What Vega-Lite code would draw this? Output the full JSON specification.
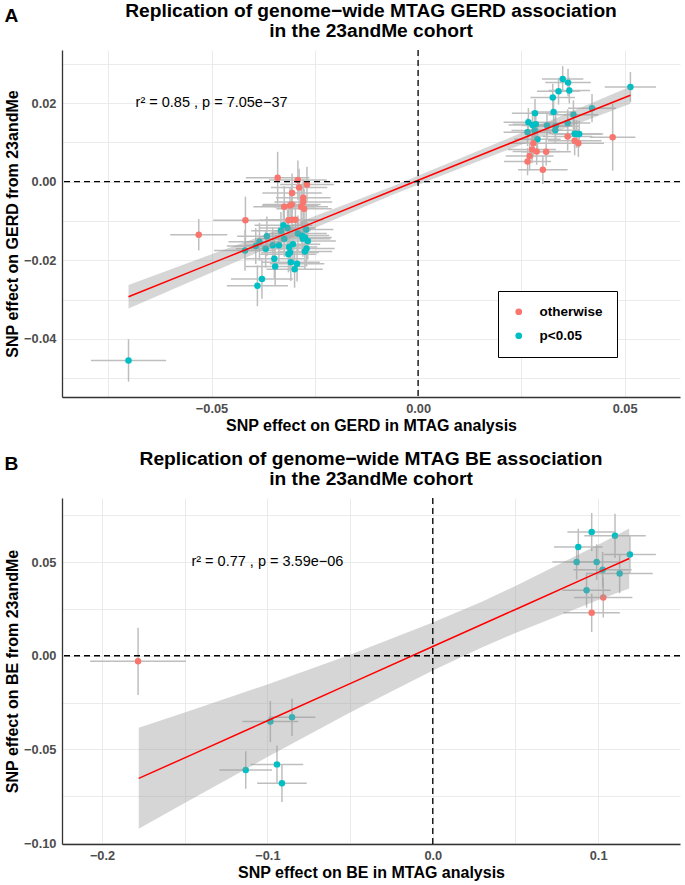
{
"$schema":"https://vega.github.io/schema/vega-lite/v6.json",
"padding":{"top":2,"left":4,"right":3,"bottom":0},
"spacing":16,
"config":{
 "font":"Liberation Sans",
 "view":{"stroke":null},
 "axis":{"domainColor":"#333333","domainWidth":1.3,"ticks":false,"grid":true,"gridColor":"#EBEBEB","gridWidth":1,"labelColor":"#4D4D4D","labelFontWeight":"bold","labelFontSize":12.8,"labelFlush":false,"titleFontWeight":"bold","titleFontSize":16,"titleColor":"#000000"},
 "axisX":{"labelPadding":5,"titlePadding":3},
 "axisY":{"labelPadding":6,"titlePadding":3},
 "title":{"fontSize":19.2,"fontWeight":"bold","anchor":"middle","frame":"group","lineHeight":20,"offset":8,"color":"#000000"},
 "legend":{"strokeColor":"#000000","fillColor":"#ffffff","padding":14,"symbolType":"circle","symbolSize":45,"symbolStrokeWidth":0,"labelFontSize":13.5,"labelFontWeight":"bold","labelColor":"#000000","rowPadding":9,"labelOffset":14}
},
"datasets":{
 "gerd":[
  {"x":-0.0340,"y":0.0010,"xe":0.0077,"ye":0.0066,"sig":"otherwise"},
  {"x":-0.0291,"y":0.0004,"xe":0.0070,"ye":0.0050,"sig":"otherwise"},
  {"x":-0.0269,"y":-0.0007,"xe":0.0065,"ye":0.0045,"sig":"otherwise"},
  {"x":-0.0288,"y":-0.0015,"xe":0.0068,"ye":0.0048,"sig":"otherwise"},
  {"x":-0.0305,"y":-0.0029,"xe":0.0072,"ye":0.0050,"sig":"otherwise"},
  {"x":-0.0278,"y":-0.0041,"xe":0.0066,"ye":0.0047,"sig":"otherwise"},
  {"x":-0.0278,"y":-0.0052,"xe":0.0070,"ye":0.0050,"sig":"otherwise"},
  {"x":-0.0324,"y":-0.0064,"xe":0.0075,"ye":0.0052,"sig":"otherwise"},
  {"x":-0.0310,"y":-0.0061,"xe":0.0068,"ye":0.0045,"sig":"otherwise"},
  {"x":-0.0306,"y":-0.0058,"xe":0.0070,"ye":0.0048,"sig":"otherwise"},
  {"x":-0.0283,"y":-0.0064,"xe":0.0065,"ye":0.0046,"sig":"otherwise"},
  {"x":-0.0276,"y":-0.0069,"xe":0.0067,"ye":0.0050,"sig":"otherwise"},
  {"x":-0.0418,"y":-0.0098,"xe":0.0078,"ye":0.0060,"sig":"otherwise"},
  {"x":-0.0314,"y":-0.0098,"xe":0.0070,"ye":0.0048,"sig":"otherwise"},
  {"x":-0.0305,"y":-0.0097,"xe":0.0066,"ye":0.0046,"sig":"otherwise"},
  {"x":-0.0297,"y":-0.0097,"xe":0.0068,"ye":0.0045,"sig":"otherwise"},
  {"x":-0.0531,"y":-0.0135,"xe":0.0069,"ye":0.0040,"sig":"otherwise"},
  {"x":-0.0326,"y":-0.0111,"xe":0.0070,"ye":0.0045,"sig":"p<0.05"},
  {"x":-0.0316,"y":-0.0118,"xe":0.0068,"ye":0.0046,"sig":"p<0.05"},
  {"x":-0.0332,"y":-0.0125,"xe":0.0072,"ye":0.0048,"sig":"p<0.05"},
  {"x":-0.0271,"y":-0.0122,"xe":0.0066,"ye":0.0047,"sig":"p<0.05"},
  {"x":-0.0291,"y":-0.0132,"xe":0.0070,"ye":0.0046,"sig":"p<0.05"},
  {"x":-0.0274,"y":-0.0142,"xe":0.0065,"ye":0.0045,"sig":"p<0.05"},
  {"x":-0.0267,"y":-0.0151,"xe":0.0068,"ye":0.0047,"sig":"p<0.05"},
  {"x":-0.0279,"y":-0.0145,"xe":0.0067,"ye":0.0046,"sig":"p<0.05"},
  {"x":-0.0366,"y":-0.0139,"xe":0.0072,"ye":0.0050,"sig":"p<0.05"},
  {"x":-0.0384,"y":-0.0153,"xe":0.0075,"ye":0.0048,"sig":"p<0.05"},
  {"x":-0.0393,"y":-0.0164,"xe":0.0070,"ye":0.0046,"sig":"p<0.05"},
  {"x":-0.0419,"y":-0.0175,"xe":0.0075,"ye":0.0052,"sig":"p<0.05"},
  {"x":-0.0352,"y":-0.0162,"xe":0.0068,"ye":0.0045,"sig":"p<0.05"},
  {"x":-0.0337,"y":-0.0162,"xe":0.0070,"ye":0.0047,"sig":"p<0.05"},
  {"x":-0.0369,"y":-0.0171,"xe":0.0072,"ye":0.0048,"sig":"p<0.05"},
  {"x":-0.0324,"y":-0.0145,"xe":0.0066,"ye":0.0046,"sig":"p<0.05"},
  {"x":-0.0312,"y":-0.0166,"xe":0.0068,"ye":0.0047,"sig":"p<0.05"},
  {"x":-0.0310,"y":-0.0180,"xe":0.0070,"ye":0.0048,"sig":"p<0.05"},
  {"x":-0.0303,"y":-0.0159,"xe":0.0066,"ye":0.0045,"sig":"p<0.05"},
  {"x":-0.0270,"y":-0.0170,"xe":0.0068,"ye":0.0046,"sig":"p<0.05"},
  {"x":-0.0274,"y":-0.0178,"xe":0.0066,"ye":0.0047,"sig":"p<0.05"},
  {"x":-0.0348,"y":-0.0196,"xe":0.0072,"ye":0.0050,"sig":"p<0.05"},
  {"x":-0.0314,"y":-0.0185,"xe":0.0068,"ye":0.0046,"sig":"p<0.05"},
  {"x":-0.0308,"y":-0.0205,"xe":0.0070,"ye":0.0048,"sig":"p<0.05"},
  {"x":-0.0293,"y":-0.0209,"xe":0.0066,"ye":0.0045,"sig":"p<0.05"},
  {"x":-0.0346,"y":-0.0216,"xe":0.0072,"ye":0.0049,"sig":"p<0.05"},
  {"x":-0.0299,"y":-0.0223,"xe":0.0068,"ye":0.0047,"sig":"p<0.05"},
  {"x":-0.0378,"y":-0.0248,"xe":0.0075,"ye":0.0050,"sig":"p<0.05"},
  {"x":-0.0389,"y":-0.0265,"xe":0.0074,"ye":0.0052,"sig":"p<0.05"},
  {"x":-0.0701,"y":-0.0455,"xe":0.0091,"ye":0.0054,"sig":"p<0.05"},
  {"x":-0.0281,"y":-0.0137,"xe":0.0066,"ye":0.0046,"sig":"p<0.05"},
  {"x":0.0350,"y":0.0261,"xe":0.0050,"ye":0.0033,"sig":"p<0.05"},
  {"x":0.0363,"y":0.0252,"xe":0.0055,"ye":0.0035,"sig":"p<0.05"},
  {"x":0.0340,"y":0.0230,"xe":0.0052,"ye":0.0034,"sig":"p<0.05"},
  {"x":0.0366,"y":0.0232,"xe":0.0050,"ye":0.0033,"sig":"p<0.05"},
  {"x":0.0326,"y":0.0214,"xe":0.0054,"ye":0.0035,"sig":"p<0.05"},
  {"x":0.0514,"y":0.0241,"xe":0.0062,"ye":0.0038,"sig":"p<0.05"},
  {"x":0.0421,"y":0.0187,"xe":0.0058,"ye":0.0036,"sig":"p<0.05"},
  {"x":0.0283,"y":0.0174,"xe":0.0056,"ye":0.0036,"sig":"p<0.05"},
  {"x":0.0328,"y":0.0177,"xe":0.0055,"ye":0.0035,"sig":"p<0.05"},
  {"x":0.0376,"y":0.0170,"xe":0.0060,"ye":0.0037,"sig":"p<0.05"},
  {"x":0.0267,"y":0.0151,"xe":0.0060,"ye":0.0036,"sig":"p<0.05"},
  {"x":0.0277,"y":0.0144,"xe":0.0058,"ye":0.0035,"sig":"p<0.05"},
  {"x":0.0285,"y":0.0146,"xe":0.0056,"ye":0.0034,"sig":"p<0.05"},
  {"x":0.0312,"y":0.0143,"xe":0.0060,"ye":0.0035,"sig":"p<0.05"},
  {"x":0.0333,"y":0.0141,"xe":0.0058,"ye":0.0036,"sig":"p<0.05"},
  {"x":0.0362,"y":0.0149,"xe":0.0055,"ye":0.0035,"sig":"p<0.05"},
  {"x":0.0265,"y":0.0126,"xe":0.0058,"ye":0.0036,"sig":"p<0.05"},
  {"x":0.0282,"y":0.0130,"xe":0.0056,"ye":0.0035,"sig":"p<0.05"},
  {"x":0.0332,"y":0.0131,"xe":0.0058,"ye":0.0034,"sig":"p<0.05"},
  {"x":0.0379,"y":0.0122,"xe":0.0062,"ye":0.0036,"sig":"p<0.05"},
  {"x":0.0384,"y":0.0121,"xe":0.0060,"ye":0.0035,"sig":"p<0.05"},
  {"x":0.0390,"y":0.0121,"xe":0.0058,"ye":0.0034,"sig":"p<0.05"},
  {"x":0.0289,"y":0.0108,"xe":0.0056,"ye":0.0035,"sig":"p<0.05"},
  {"x":0.0362,"y":0.0115,"xe":0.0060,"ye":0.0036,"sig":"otherwise"},
  {"x":0.0471,"y":0.0113,"xe":0.0055,"ye":0.0085,"sig":"otherwise"},
  {"x":0.0379,"y":0.0104,"xe":0.0065,"ye":0.0037,"sig":"otherwise"},
  {"x":0.0388,"y":0.0098,"xe":0.0062,"ye":0.0035,"sig":"otherwise"},
  {"x":0.0279,"y":0.0098,"xe":0.0060,"ye":0.0036,"sig":"otherwise"},
  {"x":0.0276,"y":0.0082,"xe":0.0058,"ye":0.0035,"sig":"otherwise"},
  {"x":0.0287,"y":0.0077,"xe":0.0058,"ye":0.0034,"sig":"otherwise"},
  {"x":0.0310,"y":0.0076,"xe":0.0060,"ye":0.0035,"sig":"otherwise"},
  {"x":0.0270,"y":0.0065,"xe":0.0058,"ye":0.0036,"sig":"otherwise"},
  {"x":0.0265,"y":0.0051,"xe":0.0057,"ye":0.0035,"sig":"otherwise"},
  {"x":0.0302,"y":0.0030,"xe":0.0060,"ye":0.0036,"sig":"otherwise"}
 ],
 "gerd_fit":[
  {"x":-0.0701,"fit":-0.0293,"lo":-0.0323,"hi":-0.0263},
  {"x":-0.05,"fit":-0.0208,"lo":-0.0231,"hi":-0.0185},
  {"x":-0.03,"fit":-0.0124,"lo":-0.0140,"hi":-0.0108},
  {"x":-0.006,"fit":-0.0022,"lo":-0.0033,"hi":-0.0011},
  {"x":0.02,"fit":0.0088,"lo":0.0074,"hi":0.0102},
  {"x":0.04,"fit":0.0172,"lo":0.0153,"hi":0.0191},
  {"x":0.0514,"fit":0.0220,"lo":0.0198,"hi":0.0242}
 ],
 "gerd_note":[{"x":-0.05,"y":0.02,"label":"r² = 0.85 ,  p = 7.05e−37"}],
 "be":[
  {"x":-0.0982,"y":-0.0351,"xe":0.0169,"ye":0.0110,"sig":"p<0.05"},
  {"x":-0.0851,"y":-0.0329,"xe":0.0141,"ye":0.0100,"sig":"p<0.05"},
  {"x":-0.0942,"y":-0.0580,"xe":0.0159,"ye":0.0101,"sig":"p<0.05"},
  {"x":-0.1131,"y":-0.0610,"xe":0.0159,"ye":0.0100,"sig":"p<0.05"},
  {"x":-0.0912,"y":-0.0681,"xe":0.0150,"ye":0.0100,"sig":"p<0.05"},
  {"x":0.0961,"y":0.0660,"xe":0.0147,"ye":0.0102,"sig":"p<0.05"},
  {"x":0.1102,"y":0.0640,"xe":0.0186,"ye":0.0118,"sig":"p<0.05"},
  {"x":0.0880,"y":0.0580,"xe":0.0147,"ye":0.0098,"sig":"p<0.05"},
  {"x":0.1192,"y":0.0540,"xe":0.0157,"ye":0.0101,"sig":"p<0.05"},
  {"x":0.0870,"y":0.0500,"xe":0.0147,"ye":0.0093,"sig":"p<0.05"},
  {"x":0.0991,"y":0.0500,"xe":0.0160,"ye":0.0095,"sig":"p<0.05"},
  {"x":0.1027,"y":0.0459,"xe":0.0176,"ye":0.0095,"sig":"p<0.05"},
  {"x":0.1130,"y":0.0439,"xe":0.0200,"ye":0.0105,"sig":"p<0.05"},
  {"x":0.0930,"y":0.0350,"xe":0.0146,"ye":0.0093,"sig":"p<0.05"},
  {"x":0.1031,"y":0.0311,"xe":0.0176,"ye":0.0107,"sig":"otherwise"},
  {"x":0.0961,"y":0.0229,"xe":0.0170,"ye":0.0102,"sig":"otherwise"},
  {"x":-0.1782,"y":-0.0030,"xe":0.0290,"ye":0.0179,"sig":"otherwise"}
 ],
 "be_fit":[
  {"x":-0.1778,"fit":-0.0655,"lo":-0.0924,"hi":-0.0385},
  {"x":-0.15,"fit":-0.0545,"lo":-0.0786,"hi":-0.0303},
  {"x":-0.1,"fit":-0.0347,"lo":-0.0541,"hi":-0.0153},
  {"x":-0.05,"fit":-0.0149,"lo":-0.0303,"hi":0.0005},
  {"x":0.0,"fit":0.0049,"lo":-0.0079,"hi":0.0177},
  {"x":0.03,"fit":0.0168,"lo":0.0045,"hi":0.0290},
  {"x":0.05,"fit":0.0247,"lo":0.0122,"hi":0.0372},
  {"x":0.1,"fit":0.0445,"lo":0.0298,"hi":0.0592},
  {"x":0.1188,"fit":0.0519,"lo":0.0359,"hi":0.0679}
 ],
 "be_note":[{"x":-0.1,"y":0.05,"label":"r² = 0.77 ,  p = 3.59e−06"}],
 "zero":[{"zero":0}]
},
"vconcat":[
 {
  "title":{"text":"A","anchor":"start","frame":"bounds","offset":-24,"fontSize":19.2},
  "vconcat":[{
   "title":{"text":["Replication of genome−wide MTAG GERD association","in the 23andMe cohort"]},
   "width":618,"height":347,
   "layer":[
    {"data":{"name":"gerd"},"mark":{"type":"errorbar","color":"#BEBEBE","thickness":1.5},
     "encoding":{
      "x":{"field":"x","type":"quantitative","title":"SNP effect on GERD in MTAG analysis","scale":{"domain":[-0.0862,0.0634],"nice":false,"zero":false},"axis":{"values":[-0.075,-0.05,-0.025,0,0.025,0.05],"format":".2f","labelExpr":"abs(datum.value) == 0.025 || abs(datum.value) == 0.075 ? '' : datum.label"}},
      "xError":{"field":"xe"},
      "y":{"field":"y","type":"quantitative","title":"SNP effect on GERD from 23andMe","scale":{"domain":[-0.0548,0.0335],"nice":false,"zero":false},"axis":{"values":[-0.05,-0.04,-0.03,-0.02,-0.01,0,0.01,0.02,0.03],"format":".2f","labelExpr":"abs(datum.value) == 0.01 || abs(datum.value) == 0.03 || abs(datum.value) == 0.05 ? '' : datum.label"}}
     }},
    {"data":{"name":"gerd"},"mark":{"type":"errorbar","color":"#BEBEBE","thickness":1.5},
     "encoding":{
      "x":{"field":"x","type":"quantitative","title":"SNP effect on GERD in MTAG analysis"},
      "y":{"field":"y","type":"quantitative","title":"SNP effect on GERD from 23andMe"},
      "yError":{"field":"ye"}
     }},
    {"data":{"name":"gerd"},"mark":{"type":"circle","size":42,"opacity":1},
     "encoding":{
      "x":{"field":"x","type":"quantitative","title":"SNP effect on GERD in MTAG analysis"},
      "y":{"field":"y","type":"quantitative","title":"SNP effect on GERD from 23andMe"},
      "color":{"field":"sig","type":"nominal","scale":{"domain":["otherwise","p<0.05"],"range":["#F8766D","#00BFC4"]},"legend":{"title":null,"orient":"none","legendX":436,"legendY":241}}
     }},
    {"data":{"name":"gerd_fit"},"mark":{"type":"area","color":"#999999","opacity":0.4},
     "encoding":{
      "x":{"field":"x","type":"quantitative","title":"SNP effect on GERD in MTAG analysis"},
      "y":{"field":"lo","type":"quantitative","title":"SNP effect on GERD from 23andMe"},
      "y2":{"field":"hi"}
     }},
    {"data":{"name":"gerd_fit"},"mark":{"type":"line","color":"#FF0000","strokeWidth":1.5},
     "encoding":{
      "x":{"field":"x","type":"quantitative","title":"SNP effect on GERD in MTAG analysis"},
      "y":{"field":"fit","type":"quantitative","title":"SNP effect on GERD from 23andMe"}
     }},
    {"data":{"name":"zero"},"mark":{"type":"rule","color":"#000000","strokeWidth":1.3,"strokeDash":[6,4]},
     "encoding":{"x":{"field":"zero","type":"quantitative","title":"SNP effect on GERD in MTAG analysis"}}},
    {"data":{"name":"zero"},"mark":{"type":"rule","color":"#000000","strokeWidth":1.3,"strokeDash":[6,4]},
     "encoding":{"y":{"field":"zero","type":"quantitative","title":"SNP effect on GERD from 23andMe"}}},
    {"data":{"name":"gerd_note"},"mark":{"type":"text","fontSize":14.5,"color":"#000000"},
     "encoding":{
      "x":{"field":"x","type":"quantitative","title":"SNP effect on GERD in MTAG analysis"},
      "y":{"field":"y","type":"quantitative","title":"SNP effect on GERD from 23andMe"},
      "text":{"field":"label"}
     }}
   ]
  }]
 },
 {
  "title":{"text":"B","anchor":"start","frame":"bounds","offset":-24,"fontSize":19.2},
  "vconcat":[{
   "title":{"text":["Replication of genome−wide MTAG BE association","in the 23andMe cohort"]},
   "width":618,"height":346,
   "layer":[
    {"data":{"name":"be"},"mark":{"type":"errorbar","color":"#BEBEBE","thickness":1.5},
     "encoding":{
      "x":{"field":"x","type":"quantitative","title":"SNP effect on BE in MTAG analysis","scale":{"domain":[-0.2242,0.1495],"nice":false,"zero":false},"axis":{"values":[-0.2,-0.15,-0.1,-0.05,0,0.05,0.1],"format":".1f","labelExpr":"abs(datum.value) == 0.05 || abs(datum.value) == 0.15 ? '' : datum.label"}},
      "xError":{"field":"xe"},
      "y":{"field":"y","type":"quantitative","title":"SNP effect on BE from 23andMe","scale":{"domain":[-0.1005,0.0842],"nice":false,"zero":false},"axis":{"values":[-0.1,-0.075,-0.05,-0.025,0,0.025,0.05,0.075],"format":".2f","labelExpr":"abs(datum.value) == 0.025 || abs(datum.value) == 0.075 ? '' : datum.label"}}
     }},
    {"data":{"name":"be"},"mark":{"type":"errorbar","color":"#BEBEBE","thickness":1.5},
     "encoding":{
      "x":{"field":"x","type":"quantitative","title":"SNP effect on BE in MTAG analysis"},
      "y":{"field":"y","type":"quantitative","title":"SNP effect on BE from 23andMe"},
      "yError":{"field":"ye"}
     }},
    {"data":{"name":"be"},"mark":{"type":"circle","size":42,"opacity":1},
     "encoding":{
      "x":{"field":"x","type":"quantitative","title":"SNP effect on BE in MTAG analysis"},
      "y":{"field":"y","type":"quantitative","title":"SNP effect on BE from 23andMe"},
      "color":{"field":"sig","type":"nominal","scale":{"domain":["otherwise","p<0.05"],"range":["#F8766D","#00BFC4"]},"legend":{"title":null,"orient":"none","legendX":435,"legendY":258}}
     }},
    {"data":{"name":"be_fit"},"mark":{"type":"area","color":"#999999","opacity":0.4},
     "encoding":{
      "x":{"field":"x","type":"quantitative","title":"SNP effect on BE in MTAG analysis"},
      "y":{"field":"lo","type":"quantitative","title":"SNP effect on BE from 23andMe"},
      "y2":{"field":"hi"}
     }},
    {"data":{"name":"be_fit"},"mark":{"type":"line","color":"#FF0000","strokeWidth":1.5},
     "encoding":{
      "x":{"field":"x","type":"quantitative","title":"SNP effect on BE in MTAG analysis"},
      "y":{"field":"fit","type":"quantitative","title":"SNP effect on BE from 23andMe"}
     }},
    {"data":{"name":"zero"},"mark":{"type":"rule","color":"#000000","strokeWidth":1.3,"strokeDash":[6,4]},
     "encoding":{"x":{"field":"zero","type":"quantitative","title":"SNP effect on BE in MTAG analysis"}}},
    {"data":{"name":"zero"},"mark":{"type":"rule","color":"#000000","strokeWidth":1.3,"strokeDash":[6,4]},
     "encoding":{"y":{"field":"zero","type":"quantitative","title":"SNP effect on BE from 23andMe"}}},
    {"data":{"name":"be_note"},"mark":{"type":"text","fontSize":14.5,"color":"#000000"},
     "encoding":{
      "x":{"field":"x","type":"quantitative","title":"SNP effect on BE in MTAG analysis"},
      "y":{"field":"y","type":"quantitative","title":"SNP effect on BE from 23andMe"},
      "text":{"field":"label"}
     }}
   ]
  }]
 }
]
}
